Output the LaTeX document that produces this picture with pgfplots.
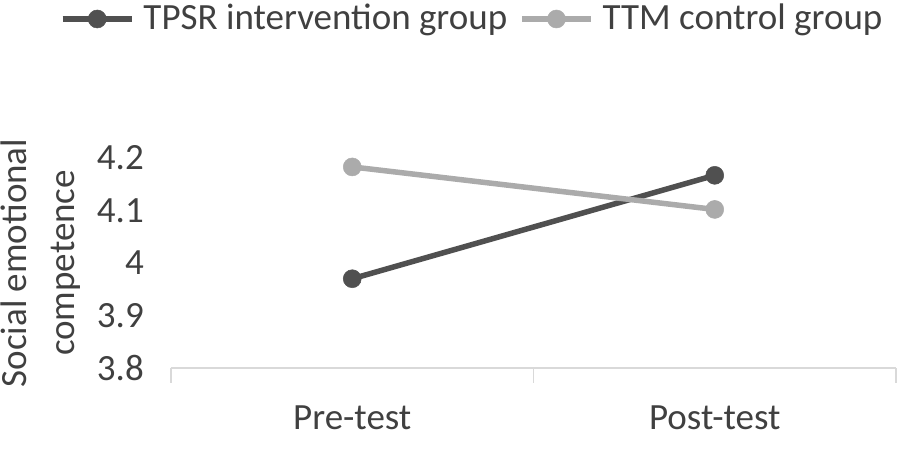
\documentclass[border=0pt]{standalone}
\usepackage{fontspec}
\setmainfont{Carlito}
\usepackage{pgfplots}
\pgfplotsset{compat=1.18}
\definecolor{txt}{HTML}{404040}
\definecolor{dark}{HTML}{505050}
\definecolor{light}{HTML}{ABABAB}
\definecolor{axgray}{HTML}{D9D9D9}
\begin{document}
\fontsize{37}{48}\selectfont
\begin{tikzpicture}
\begin{axis}[
  scale only axis, width=725pt, height=210pt,
  at={(0,0)}, anchor=south west,
  xmin=0.5, xmax=2.5, ymin=3.8, ymax=4.2,
  clip=false,
  axis x line*=bottom, axis y line*=left,
  x axis line style={axgray, line width=1.5pt, -},
  y axis line style={draw=none},
  tick align=outside, major tick length=15pt,
  xtick={0.5,1.5,2.5}, xticklabels={},
  x tick style={axgray, line width=1.5pt},
  extra x ticks={1,2}, extra x tick labels={Pre-test,Post-test},
  extra x tick style={major tick length=0pt, tick style={draw=none}},
  xticklabel style={anchor=base, text=txt, yshift=-62pt},
  ytick={3.8,3.9,4,4.1,4.2}, yticklabels={3.8,3.9,4,4.1,4.2},
  y tick style={draw=none},
  yticklabel style={anchor=east, inner xsep=0pt, text=txt, xshift=-12pt},
  ylabel={Social emotional\\competence},
  every axis y label/.style={at={(rel axis cs:0,0.5)}, xshift=-130pt, rotate=90, anchor=center, align=center, text=txt},
  legend columns=2,
  legend cell align=left,
  legend style={at={(rel axis cs:0,1)}, anchor=west, xshift=-111pt, yshift=139pt,
    draw=none, fill=none, inner sep=0pt, outer sep=0pt,
    nodes={inner sep=0pt, text=txt},
    /tikz/every odd column/.append style={column sep=9pt},
    /tikz/every even column/.append style={column sep=12pt}},
  legend image code/.code={\draw[#1, mark repeat=2, mark phase=2] plot coordinates {(0pt,0pt) (34.5pt,0pt) (69pt,0pt)};},
]
\addplot[dark, line width=5.5pt, mark=*, mark size=9pt, mark options={solid, fill=dark, draw=dark, line width=0.5pt}]
  coordinates {(1,3.970) (2,4.167)};
\addlegendentry{TPSR intervention group}
\addplot[light, line width=5.5pt, mark=*, mark size=9pt, mark options={solid, fill=light, draw=light, line width=0.5pt}]
  coordinates {(1,4.183) (2,4.102)};
\addlegendentry{TTM control group}
\end{axis}
\pgfresetboundingbox
\path[use as bounding box] (-171pt,-81pt) rectangle (729pt,368pt);
\end{tikzpicture}
\end{document}
